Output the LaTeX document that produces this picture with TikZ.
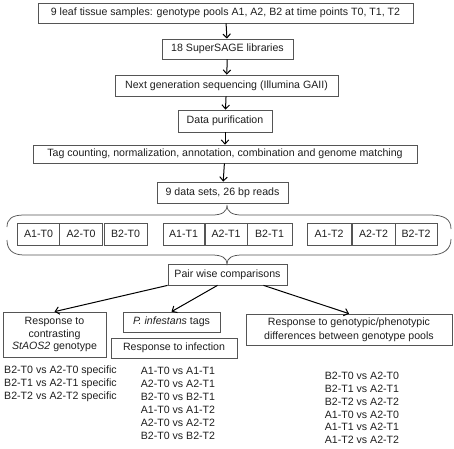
\documentclass[tikz,border=0pt]{standalone}
\usepackage{fontspec}
\setmainfont{Liberation Sans}
\usetikzlibrary{arrows.meta}
\definecolor{boxgray}{RGB}{85,85,85}
\definecolor{txtgray}{RGB}{30,30,30}
\tikzset{
  box/.style={draw=boxgray, line width=0.75pt, inner sep=0pt, text=txtgray, align=center},
  flow/.style={-{Straight Barb[length=4pt,width=7.5pt]}, line width=1pt},
  brace/.style={draw=boxgray, line width=0.75pt},
  plain/.style={inner sep=0pt, text=txtgray}
}
\begin{document}
\begin{tikzpicture}[x=1pt,y=-1pt,font=\fontsize{10.6}{12.8}\selectfont]
  \useasboundingbox (0,0) rectangle (454,448);

%% pipeline
  \node[box,minimum width=375pt,minimum height=20pt] (samples) at (225.5,13) {9 leaf tissue samples: genotype pools A1, A2, B2 at time points T0, T1, T2};
  \node[box,minimum width=131pt,minimum height=20pt] (libs) at (227.5,49) {18 SuperSAGE libraries};
  \node[box,minimum width=223pt,minimum height=21pt] (seq) at (226.5,85.5) {Next generation sequencing (Illumina GAII)};
  \node[box,minimum width=94pt,minimum height=22pt] (purif) at (225,121) {Data purification};
  \node[box,minimum width=384pt,minimum height=18pt] (tags) at (225,154) {Tag counting, normalization, annotation, combination and genome matching};
  \node[box,minimum width=131pt,minimum height=21pt] (data) at (222.5,192.5) {9 data sets, 26 bp reads};

  \draw[flow] (samples) -- (libs);
  \draw[flow] (libs) -- (seq);
  \draw[flow] (seq) -- (purif);
  \draw[flow] (purif) -- (tags);
  \draw[flow] (tags) -- (data);

%% data sets
  \node[box,minimum width=42pt,minimum height=22pt] (a1t0) at (38.5,234) {A1-T0};
  \node[box,minimum width=43pt,minimum height=22pt] (a2t0) at (81,234) {A2-T0};
  \node[box,minimum width=43pt,minimum height=22pt] (b2t0) at (125.5,234) {B2-T0};
  \node[box,minimum width=41pt,minimum height=22pt] (a1t1) at (183.5,234) {A1-T1};
  \node[box,minimum width=42pt,minimum height=22pt] (a2t1) at (226,234) {A2-T1};
  \node[box,minimum width=45pt,minimum height=22pt] (b2t1) at (269.5,234) {B2-T1};
  \node[box,minimum width=44pt,minimum height=22pt] (a1t2) at (329,234) {A1-T2};
  \node[box,minimum width=43pt,minimum height=22pt] (a2t2) at (373.5,234) {A2-T2};
  \node[box,minimum width=42pt,minimum height=22pt] (b2t2) at (416,234) {B2-T2};

%% braces
  \coordinate (uptip) at (227,205);
  \coordinate (lowtip) at (227,264);
  \draw[brace] (7,227) .. controls (7,219) and (12,215) .. (24,215) -- (212,215)
    .. controls (222,215) and (227,212) .. (uptip)
    .. controls (227,212) and (232,215) .. (242,215) -- (430,215)
    .. controls (444,215) and (451,219) .. (451,229);
  \draw[brace] (7,240) .. controls (7,249) and (12,255) .. (24,255) -- (212,255)
    .. controls (222,255) and (227,258) .. (lowtip)
    .. controls (227,258) and (232,255) .. (242,255) -- (430,255)
    .. controls (444,255) and (451,249) .. (451,239);

%% comparisons
  \node[box,minimum width=119pt,minimum height=21pt] (pair) at (227.5,274.5) {Pair wise comparisons};
  \node[box,minimum width=103pt,minimum height=45pt,font=\fontsize{10.6}{12.5}\selectfont] (contrast) at (54.5,334.5) {Response to\\contrasting\\\textit{StAOS2} genotype};
  \node[box,minimum width=97pt,minimum height=20pt] (pinf) at (171.5,322) {\textit{P. infestans} tags};
  \node[box,minimum width=126pt,minimum height=20pt] (infect) at (174,348) {Response to infection};
  \node[box,minimum width=206pt,minimum height=31pt,font=\fontsize{10.6}{13.5}\selectfont] (geno) at (349,329.5) {Response to genotypic/phenotypic\\differences between genotype pools};

  \draw[flow] (pair.south west) -- (contrast.north);
  \draw[flow] ([xshift=-10pt]pair.south) -- (pinf.north);
  \draw[flow] ([xshift=36pt]pair.south) -- (geno.north);

%% lists
  \node[plain,align=left,anchor=west] (speclist) at (4,383.5) {B2-T0 vs A2-T0 specific\\B2-T1 vs A2-T1 specific\\B2-T2 vs A2-T2 specific};
  \node[plain,align=center,font=\fontsize{10.6}{13}\selectfont] (inflist) at (178,403) {A1-T0 vs A1-T1\\A2-T0 vs A2-T1\\B2-T0 vs B2-T1\\A1-T0 vs A1-T2\\A2-T0 vs A2-T2\\B2-T0 vs B2-T2};
  \node[plain,align=center,font=\fontsize{10.6}{12.7}\selectfont] (genolist) at (362,408) {B2-T0 vs A2-T0\\B2-T1 vs A2-T1\\B2-T2 vs A2-T2\\A1-T0 vs A2-T0\\A1-T1 vs A2-T1\\A1-T2 vs A2-T2};
\end{tikzpicture}
\end{document}
